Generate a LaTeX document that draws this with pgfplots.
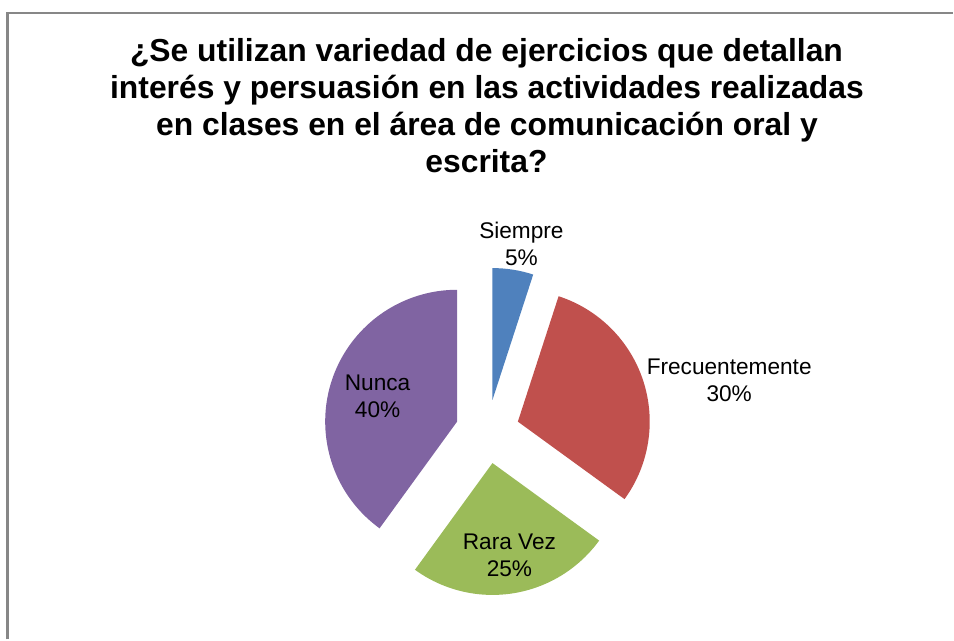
\documentclass[border=0pt]{standalone}
\usepackage{pgfplots}
\usepackage{pgfplotstable}
\pgfplotsset{compat=1.18}
\usepackage{fontspec}
\setmainfont{Liberation Sans}

\definecolor{cS}{HTML}{4F81BD}
\definecolor{cF}{HTML}{C0504D}
\definecolor{cR}{HTML}{9BBB59}
\definecolor{cN}{HTML}{8064A2}
\definecolor{frame}{HTML}{878787}
\newcommand\labfont{\fontsize{17}{20}\selectfont}
\newcommand\titfont{\fontsize{23.9}{28}\selectfont\bfseries}

% value in %, label centre in pixels of the original chart
\pgfplotstableread[col sep=comma]{
label,value,color,lx,ly
Siempre,5,cS,522,244
Frecuentemente,30,cF,730,381
Rara Vez,25,cR,510,556
Nunca,40,cN,378,397
}\piedata

\begin{document}
\begin{tikzpicture}
\begin{axis}[
  width=715.5pt, height=480pt, scale only axis,
  xmin=0, xmax=954, ymin=0, ymax=640,
  hide axis, clip=false,
]
\path (axis cs:0,0) rectangle (axis cs:954,640);
\draw[frame, line width=1.6pt] (axis cs:7.5,0) -- (axis cs:7.5,627) -- (axis cs:954,627);

\node[anchor=base, font=\titfont] at (axis cs:487,578) {¿Se utilizan variedad de ejercicios que detallan};
\node[anchor=base, font=\titfont] at (axis cs:487.5,541) {interés y persuasión en las actividades realizadas};
\node[anchor=base, font=\titfont] at (axis cs:487.5,504) {en clases en el área de comunicación oral y};
\node[anchor=base, font=\titfont] at (axis cs:487,467.5) {escrita?};

\pgfmathsetmacro\cum{0}
\pgfplotsforeachungrouped \i in {0,1,2,3}{%
  \pgfplotstablegetelem{\i}{value}\of\piedata\let\v\pgfplotsretval
  \pgfplotstablegetelem{\i}{label}\of\piedata\let\lab\pgfplotsretval
  \pgfplotstablegetelem{\i}{color}\of\piedata\let\col\pgfplotsretval
  \pgfplotstablegetelem{\i}{lx}\of\piedata\let\lx\pgfplotsretval
  \pgfplotstablegetelem{\i}{ly}\of\piedata\let\ly\pgfplotsretval
  \pgfmathsetmacro\aA{90-3.6*\cum}
  \pgfmathsetmacro\aB{\aA-3.6*\v}
  \pgfmathsetmacro\cx{488+32*cos((\aA+\aB)/2)}
  \pgfmathsetmacro\cy{208+32*sin((\aA+\aB)/2)}
  \pgfmathsetmacro\ty{640-\ly}
  \pgfmathsetmacro\cum{\cum+\v}
  \edef\temp{%
    \noexpand\fill[\col] (axis cs:\cx,\cy) -- ++(\aA:99pt)
      arc[start angle=\aA, end angle=\aB, radius=99pt] -- cycle;
    \noexpand\node[align=center, font=\noexpand\labfont]
      at (axis cs:\lx,\ty) {\lab\noexpand\\\v\noexpand\%};}%
  \temp
}
\end{axis}
\end{tikzpicture}
\end{document}
